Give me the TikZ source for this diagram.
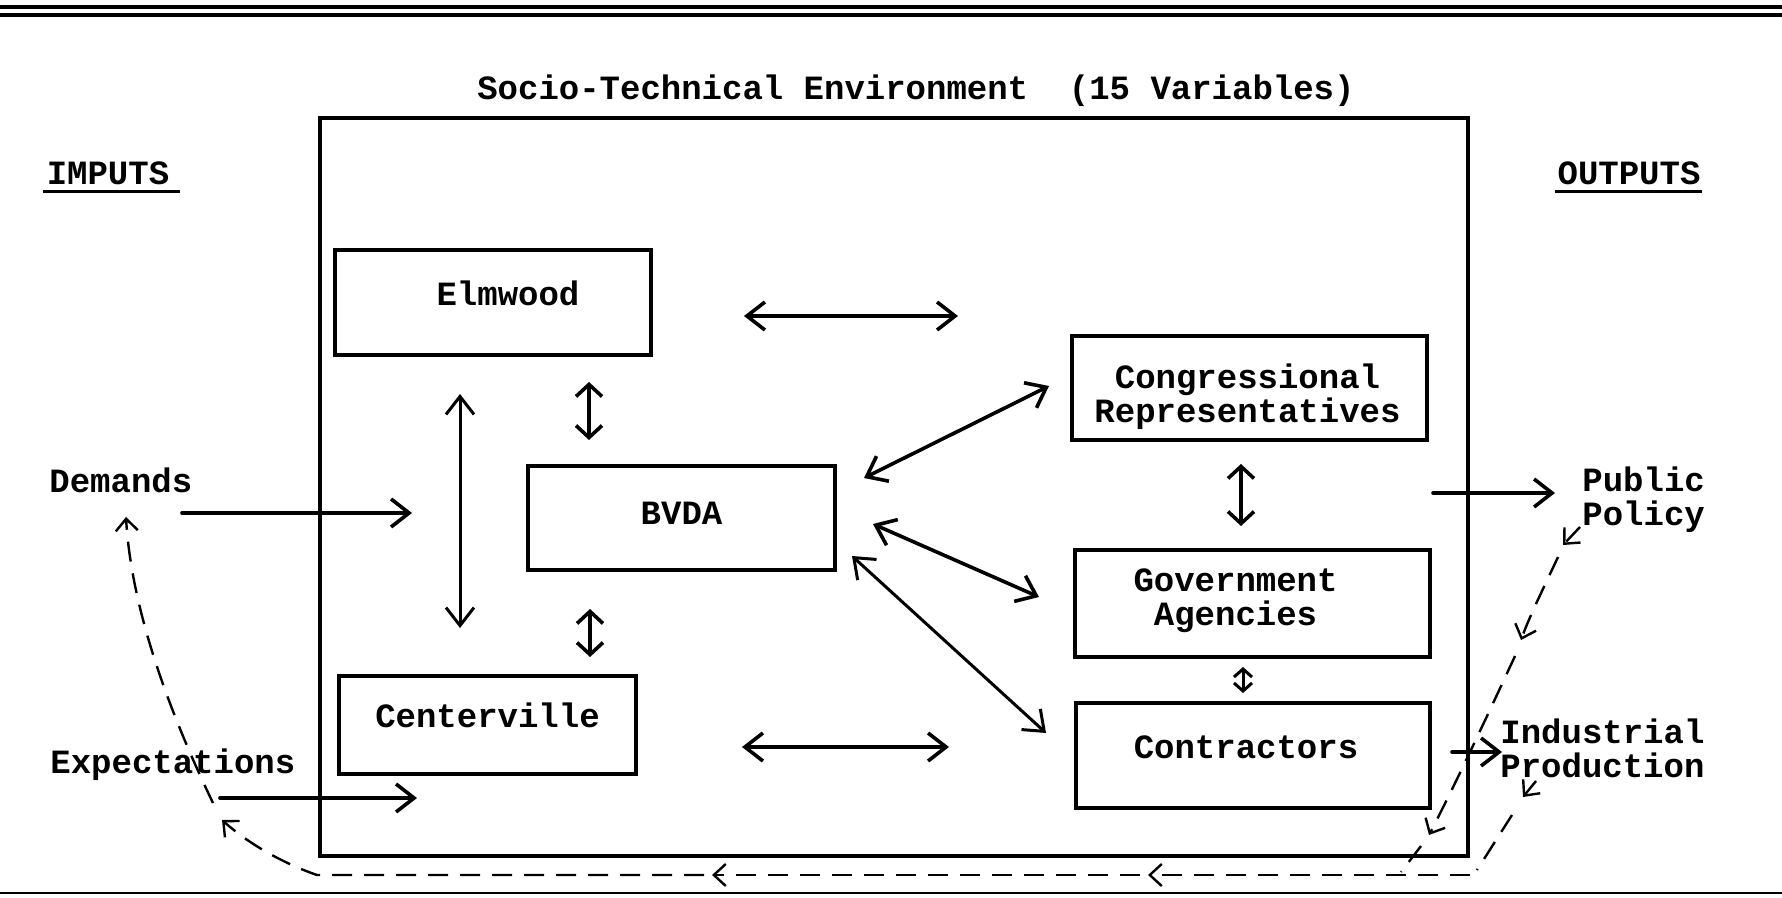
\documentclass[tikz,border=0pt]{standalone}
\usepackage{fontspec}
\setmainfont{Liberation Mono}
\usetikzlibrary{arrows.meta}
\tikzset{
  box/.style={draw, line width=1.6pt, inner sep=0pt},
  txt/.style={inner sep=0pt, align=center, font=\bfseries\fontsize{17pt}{17pt}\selectfont},
  tipbig/.tip={Straight Barb[length=9pt,width=14pt]},
  tipmid/.tip={Straight Barb[length=6pt,width=13pt]},
  tipsmall/.tip={Straight Barb[length=4pt,width=9pt]},
  tipdash/.tip={Straight Barb[length=6pt,width=11pt]},
  arr/.style={line width=1.8pt, line cap=round, -tipbig},
  darr/.style={line width=1.8pt, line cap=round, tipbig-tipbig},
  mdarr/.style={line width=1.8pt, line cap=round, tipmid-tipmid},
  tdarr/.style={line width=1.5pt, line cap=round, tipbig-tipbig},
  sdarr/.style={line width=1.5pt, line cap=round, tipsmall-tipsmall},
  dashln/.style={line width=1.2pt, dash pattern=on 10pt off 6pt},
  dtip/.style={dashln, -tipdash},
  rule/.style={line width=#1},
}
\begin{document}
\begin{tikzpicture}[x=0.5pt,y=-0.5pt]
\useasboundingbox (0,0) rectangle (1782,898);
% page rules
\draw[rule=1.6pt] (0,7) -- (1782,7);
\draw[rule=2pt] (0,15) -- (1782,15);
\draw[rule=1pt] (0,893) -- (1782,893);

% title and environment box
\node[txt] (title) at (916,91) {Socio-Technical Environment~~(15 Variables)};
\node[box, minimum width=574pt, minimum height=369pt] (env) at (894,487) {};

% headings
\node[txt] (imp) at (108,173) {IMPUTS};
\draw[rule=1.5pt] (43,192) -- (180,192);
\node[txt] (out) at (1629,173) {OUTPUTS};
\draw[rule=1.5pt] (1555,192) -- (1702,192);

% boxes
\node[box, minimum width=158pt, minimum height=52.5pt] (elm) at (493,302.5) {};
\node[box, minimum width=153.5pt, minimum height=52pt] (bvda) at (681.5,518) {};
\node[box, minimum width=148.5pt, minimum height=49pt] (cent) at (487.5,725) {};
\node[box, minimum width=177.5pt, minimum height=52pt] (cong) at (1249.5,388) {};
\node[box, minimum width=177.5pt, minimum height=53.5pt] (gov) at (1252.5,603.5) {};
\node[box, minimum width=177pt, minimum height=52.5pt] (con) at (1253,755.5) {};

% box labels
\node[txt] (elmt) at (508,293.5) {Elmwood};
\node[txt] (bvdat) at (681.5,513.5) {BVDA};
\node[txt] (centt) at (487.5,715) {Centerville};
\node[txt] (congt) at (1247.5,397) {Congressional\\Representatives};
\node[txt] (govt) at (1235.5,600.5) {Government\\Agencies};
\node[txt] (cont) at (1246,747.5) {Contractors};

% inputs / outputs text
\node[txt, anchor=west] (dem) at (49,480) {Demands};
\node[txt, anchor=west] (exp) at (50,765) {Expectations};
\node[txt, anchor=west, align=left] (pp) at (1582,500) {Public\\Policy};
\node[txt, anchor=west, align=left] (ip) at (1500,748) {Industrial\\Production};

% arrow end points
\coordinate (a1) at (744,316);  \coordinate (a2) at (958,316);
\coordinate (c1) at (742,747);  \coordinate (c2) at (949,747);
\coordinate (eb1) at (589,382); \coordinate (eb2) at (589,440);
\coordinate (bc1) at (590,609); \coordinate (bc2) at (590,657);
\coordinate (ec1) at (460,394); \coordinate (ec2) at (460,628);
\coordinate (d1) at (182,513);  \coordinate (d2) at (412,513);
\coordinate (x1) at (220,798);  \coordinate (x2) at (417,798);
\coordinate (bq1) at (864,478); \coordinate (bq2) at (1049,386);
\coordinate (bg1) at (873,524); \coordinate (bg2) at (1039,597);
\coordinate (bk1) at (852,556); \coordinate (bk2) at (1046,733);
\coordinate (qg1) at (1241,464); \coordinate (qg2) at (1241,526);
\coordinate (gk1) at (1243,667); \coordinate (gk2) at (1243,693);
\coordinate (p1) at (1433,493); \coordinate (p2) at (1555,493);
\coordinate (i1) at (1452,752); \coordinate (i2) at (1502,752);

% solid arrows
\draw[darr] (a1) -- (a2);
\draw[darr] (c1) -- (c2);
\draw[mdarr] (eb1) -- (eb2);
\draw[mdarr] (bc1) -- (bc2);
\draw[tdarr] (ec1) -- (ec2);
\draw[arr] (d1) -- (d2);
\draw[arr] (x1) -- (x2);
\draw[darr] (bq1) -- (bq2);
\draw[darr] (bg1) -- (bg2);
\draw[tdarr] (bk1) -- (bk2);
\draw[mdarr] (qg1) -- (qg2);
\draw[sdarr] (gk1) -- (gk2);
\draw[arr] (p1) -- (p2);
\draw[arr] (i1) -- (i2);

% feedback loop (dashed)
\coordinate (f0) at (1470,875);
\coordinate (f1) at (1148,875);
\coordinate (f1s) at (1140,875);
\coordinate (f2) at (712,875);
\coordinate (f2s) at (704,875);
\coordinate (f3) at (317,875);
\coordinate (l1) at (222,820);
\coordinate (l2) at (213,803);
\coordinate (l3) at (126,517);
\draw[dtip] (f0) -- (f1);
\draw[dtip] (f1s) -- (f2);
\draw[dtip] (f2s) -- (f3) .. controls (285,864) and (250,845) .. (l1);
\draw[dtip] (l2) .. controls (178,730) and (132,620) .. (l3);

\coordinate (r0) at (1580,527);
\coordinate (r1) at (1563,545);
\coordinate (r2) at (1558,557);
\coordinate (r3) at (1521,640);
\coordinate (r4) at (1515,656);
\coordinate (r5) at (1429,835);
\coordinate (r6) at (1421,846);
\coordinate (r7) at (1401,872);
\draw[dtip] (r0) -- (r1);
\draw[dtip] (r2) .. controls (1545,585) and (1530,615) .. (r3);
\draw[dtip] (r4) .. controls (1490,710) and (1455,785) .. (r5);
\draw[dashln] (r6) -- (r7);

\coordinate (j0) at (1536,781);
\coordinate (j1) at (1523,797);
\coordinate (j2) at (1512,815);
\coordinate (j3) at (1477,870);
\draw[dtip] (j0) -- (j1);
\draw[dashln] (j2) -- (j3);
\end{tikzpicture}
\end{document}
